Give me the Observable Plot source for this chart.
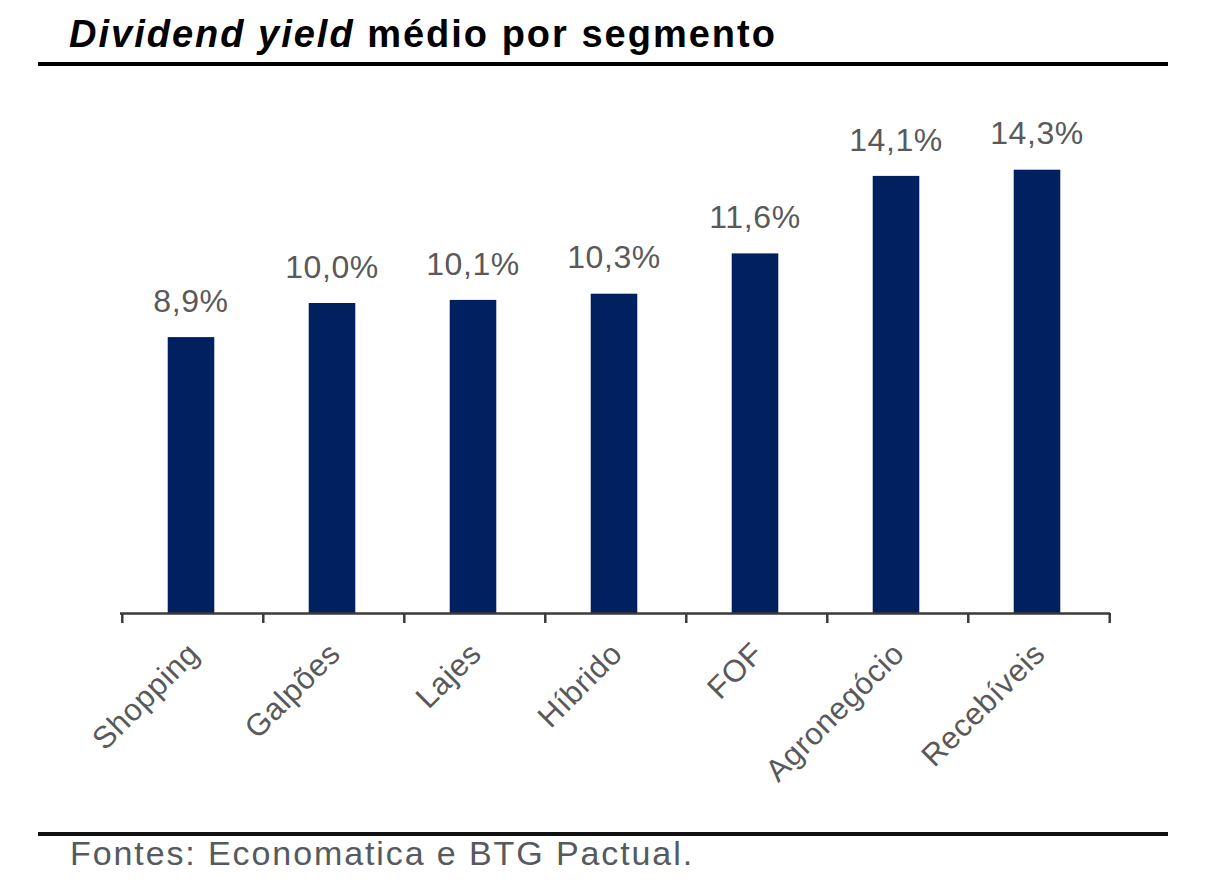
<!DOCTYPE html>
<html>
<head>
<meta charset="utf-8">
<script src="https://cdn.jsdelivr.net/npm/d3@7"></script>
<script src="https://cdn.jsdelivr.net/npm/@observablehq/plot@0.6"></script>
<style>
  html, body { margin: 0; padding: 0; background: #fff; }
  #page { position: relative; width: 1208px; height: 888px; overflow: hidden; font-family: "Liberation Sans", Arial, sans-serif; }
  #title { position: absolute; left: 69px; top: 15px; font-size: 38px; line-height: 38px; font-weight: bold; color: #000; letter-spacing: 2px; white-space: nowrap; }
  .rule { position: absolute; left: 38px; width: 1130px; background: #000; }
  #ruleTop { top: 62px; height: 4px; }
  #ruleBottom { top: 832px; height: 4px; background: #111; }
  #chart { position: absolute; left: 0; top: 66px; }
  #caption { position: absolute; left: 70px; top: 836px; font-size: 34px; line-height: 34px; color: #555a60; letter-spacing: 1.9px; white-space: nowrap; }
  #chart svg text { letter-spacing: 0.6px; }
</style>
</head>
<body>
<div id="page">
  <div id="title"><i>Dividend yield</i> médio por segmento</div>
  <div class="rule" id="ruleTop"></div>
  <div id="chart"></div>
  <div class="rule" id="ruleBottom"></div>
  <div id="caption">Fontes: Economatica e BTG Pactual.</div>
</div>
<script>
const categories = ["Shopping", "Galpões", "Lajes", "Híbrido", "FOF", "Agronegócio", "Recebíveis"];
const values = [8.9, 10.0, 10.1, 10.3, 11.6, 14.1, 14.3];
const yDomain = [0, 16];

const rows = categories.map((c, i) => ({segment: c, value: values[i]}));
const fmt = v => v.toFixed(1).replace(".", ",") + "%";

const width = 1208, height = 764;
const marginLeft = 120, marginRight = 98, marginTop = 51, marginBottom = 217;
const step = (width - marginLeft - marginRight) / categories.length;
const barWidth = 47;
const inset = (step - barWidth) / 2;

const chart = Plot.plot({
  width, height, marginLeft, marginRight, marginTop, marginBottom,
  style: {fontFamily: '"Liberation Sans", Arial, sans-serif', background: "transparent"},
  x: {type: "band", domain: categories, padding: 0, axis: null},
  y: {domain: yDomain, axis: null},
  marks: [
    Plot.barY(rows, {x: "segment", y: "value", fill: "#002060", insetLeft: inset, insetRight: inset, dx: -1.5}),
    Plot.ruleY([0], {stroke: "#3a3a3a", strokeWidth: 2.5}),
    Plot.ruleX(categories, {x: d => d, y1: () => 0, y2: () => 0, insetBottom: -10, dx: -step / 2, stroke: "#3a3a3a", strokeWidth: 2.5}),
    Plot.ruleX(categories.slice(-1), {x: d => d, y1: () => 0, y2: () => 0, insetBottom: -10, dx: step / 2, stroke: "#3a3a3a", strokeWidth: 2.5}),
    Plot.text(rows, {x: "segment", y: "value", text: d => fmt(d.value), dy: -36, dx: -2, fontSize: 32, fill: "#595959"}),
    Plot.text(categories, {x: d => d, y: () => 0, text: d => d, rotate: -45, textAnchor: "end", dx: 1, dy: 35, fontSize: 31, fill: "#595959"})
  ]
});
document.getElementById("chart").appendChild(chart);
</script>
</body>
</html>
